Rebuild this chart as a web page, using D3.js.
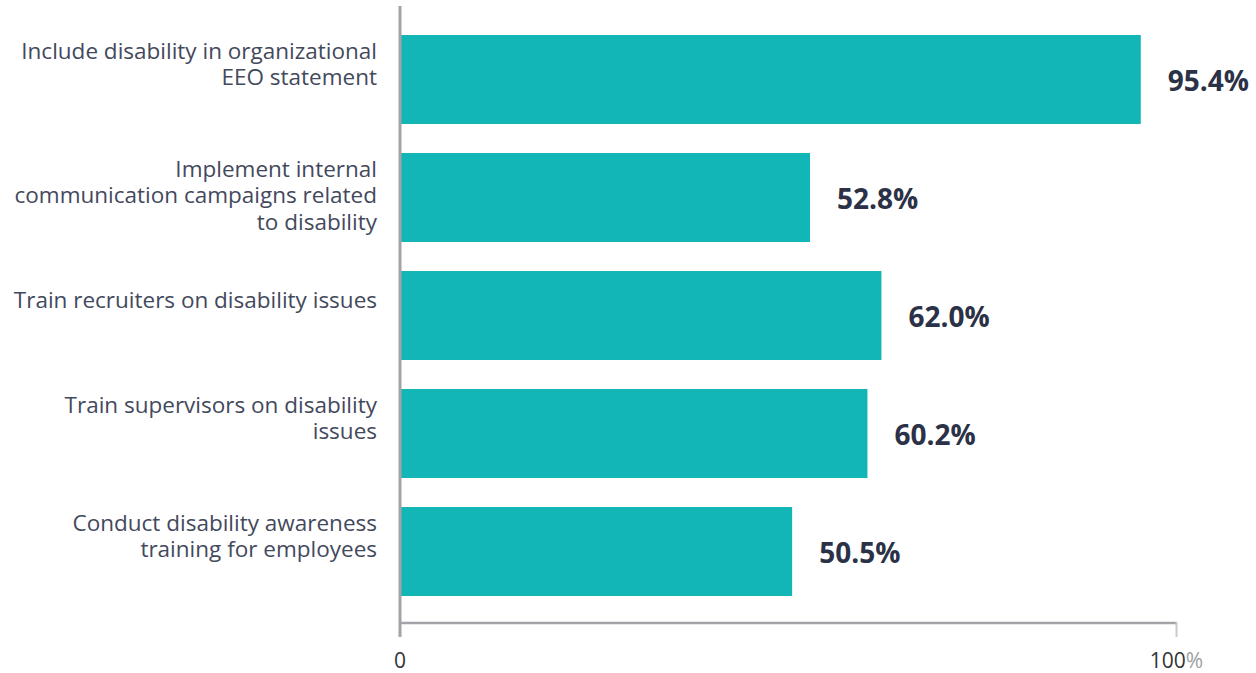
<!DOCTYPE html>
<html>
<head>
<meta charset="utf-8">
<script src="https://cdn.jsdelivr.net/npm/d3@7"></script>
<style>
  html, body { margin: 0; padding: 0; background: #fff; }
  svg { display: block; }
  text { font-family: "Open Sans", "Noto Sans", sans-serif; }
</style>
</head>
<body>
<svg id="chart" width="1256" height="673"></svg>
<script>
// Disability inclusion practices and share of organisations using each
const categories = [
  ["Include disability in organizational", "EEO statement"],
  ["Implement internal", "communication campaigns related", "to disability"],
  ["Train recruiters on disability issues"],
  ["Train supervisors on disability", "issues"],
  ["Conduct disability awareness", "training for employees"]
];
const values = [95.4, 52.8, 62.0, 60.2, 50.5];
const xTicks = [0, 100];

const svg = d3.select("#chart");
const x0 = 400, x1 = 1176.5;

const x = d3.scaleLinear().domain([0, 100]).range([x0, x1]);
const y = d3.scaleBand()
  .domain(d3.range(values.length))
  .range([20.5, 610.5])
  .paddingInner(0.246)
  .paddingOuter(0.123);

// bars
svg.append("g").selectAll("rect")
  .data(values)
  .join("rect")
  .attr("x", x(0))
  .attr("y", (d, i) => y(i))
  .attr("width", d => x(d) - x(0))
  .attr("height", y.bandwidth())
  .attr("fill", "#12b6b6");

// value labels
svg.append("g").selectAll("text")
  .data(values)
  .join("text")
  .attr("x", d => x(d) + 27)
  .attr("y", (d, i) => y(i) + y.bandwidth() / 2 + 11)
  .attr("font-size", 28)
  .attr("font-weight", 700)
  .attr("fill", "#2b3146")
  .text(d => d.toFixed(1) + "%");

// category labels, right aligned against the axis
const lh = 26.5;
const catG = svg.append("g");
categories.forEach((lines, i) => {
  const c = y(i) + y.bandwidth() / 2;
  const first = Math.max(c - 8 - (lines.length - 1) * lh / 2, y(i) + 23.5);
  lines.forEach((line, j) => {
    catG.append("text")
      .attr("text-anchor", "end")
      .attr("font-size", 22.5)
      .attr("fill", "#43495c")
      .attr("x", 377)
      .attr("y", first + j * lh)
      .text(line);
  });
});

// axes
const axisG = svg.append("g");
axisG.append("line")
  .attr("x1", x0 + 0.5).attr("x2", x(100))
  .attr("y1", 623).attr("y2", 623)
  .attr("stroke", "#a3a3a7").attr("stroke-width", 2.5);
axisG.append("line")
  .attr("x1", x(100)).attr("x2", x(100))
  .attr("y1", 622).attr("y2", 637)
  .attr("stroke", "#c9c9cb").attr("stroke-width", 2);
axisG.append("line")
  .attr("x1", x0).attr("x2", x0)
  .attr("y1", 6).attr("y2", 637)
  .attr("stroke", "#a3a3a7").attr("stroke-width", 3);

// tick labels
const tickG = svg.append("g");
xTicks.forEach(v => {
  const t = tickG.append("text")
    .attr("x", x(v))
    .attr("y", 668)
    .attr("text-anchor", "middle")
    .attr("font-size", 21)
    .attr("fill", "#333");
  t.append("tspan").text(v);
  if (v !== 0) t.append("tspan").attr("fill", "#a0a0a0").text("%");
});
</script>
</body>
</html>
